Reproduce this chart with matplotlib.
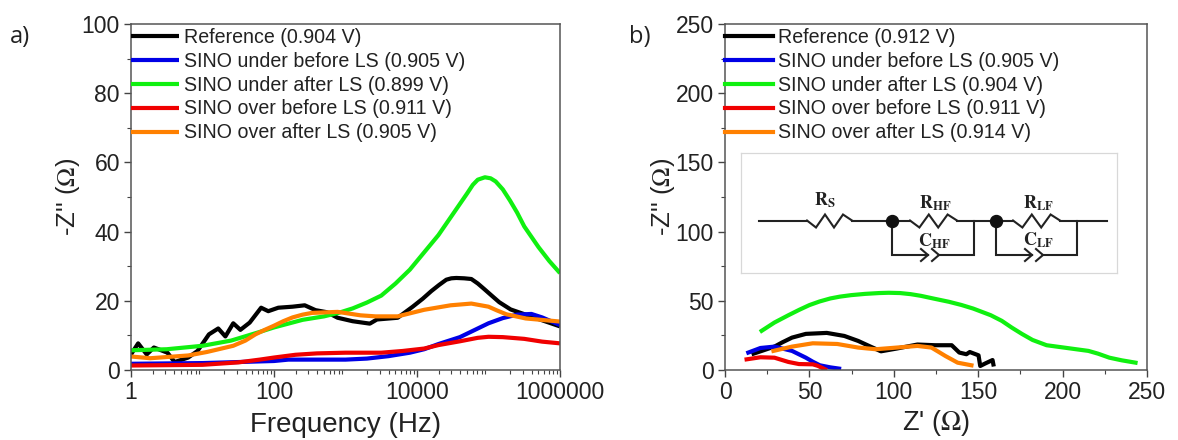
import numpy as np
import matplotlib
matplotlib.use("Agg")
import matplotlib.pyplot as plt
from matplotlib.ticker import FixedLocator, NullFormatter

plt.rcParams['font.family'] = ['Liberation Sans', 'DejaVu Sans']

W, H = 1178, 440
COL = dict(black='#000000', blue='#0000e6', green='#10f010', red='#f00000', orange='#ff8000')

# ---- panel a: log10(frequency), -Z''
a_black_f = [0,.10,.22,.32,.51,.61,.80,.93,1.09,1.22,1.32,1.43,1.53,1.66,1.82,1.92,2.06,2.26,2.43,2.58,2.74,2.89,3.10,3.34,3.44,3.73,3.94,4.08,4.20,4.31,4.41,4.48,4.55,4.66,4.76,4.85,4.94,5.05,5.15,5.31,5.52,5.76,6.0]
a_black_z = [4.5,7.7,4.5,6.5,5,2.3,3.6,5.5,10.3,12,9.7,13.5,11.6,13.7,18,17,18,18.3,18.7,17.3,16.7,15.1,14.1,13.4,14.6,15.1,18.3,20.6,22.8,24.6,26.1,26.5,26.6,26.5,26.3,25,23.4,21.4,19.6,17.5,16,14.3,12.6]
a_blue_f = [0,1,1.5,2,2.2,3,3.3,3.6,3.9,4.1,4.3,4.6,4.8,5.0,5.2,5.4,5.6,5.75,6]
a_blue_z = [1.8,2,2.3,2.6,3,3,3.3,4,5,6,7.5,9.5,11.5,13.5,15,16,16.2,15.2,13]
a_green_f = [0,.5,1,1.4,1.8,2,2.4,2.7,2.9,3.1,3.3,3.5,3.7,3.9,4.1,4.3,4.5,4.6,4.7,4.78,4.85,4.95,5.03,5.1,5.2,5.3,5.4,5.5,5.6,5.7,5.85,6]
a_green_z = [5.7,6,7,8.5,11,12.3,14.5,15.5,16.5,17.8,19.5,21.5,25,29,34,39,45,48,51,53.5,55,55.7,55.4,54.5,52.2,49,45.5,41.5,38.5,35.5,31.5,28]
a_red_f = [0,1,1.5,1.8,2,2.3,2.6,3,3.5,3.8,4.1,4.3,4.6,4.85,5.0,5.2,5.5,5.75,6]
a_red_z = [1.3,1.5,2.2,3,3.6,4.4,4.8,5,5,5.5,6.2,7.2,8.3,9.3,9.6,9.5,9,8.2,7.7]
a_orange_f = [0,.27,.80,1.06,1.43,1.6,1.74,1.87,2.0,2.13,2.26,2.4,2.53,2.89,3.21,3.42,3.73,4.1,4.47,4.76,5.0,5.12,5.25,5.52,6]
a_orange_z = [3.9,3.4,4.2,5.2,7,8.5,10.3,11.6,12.8,14.1,15.2,16,16.5,16.8,15.8,15.5,15.5,17.4,18.7,19.2,18.3,17.2,16.1,14.9,14]
a_labels = ['Reference (0.904 V)','SINO under before LS (0.905 V)','SINO under after LS (0.899 V)','SINO over before LS (0.911 V)','SINO over after LS (0.905 V)']
a_xticks = [1, 100, 10000, 1000000]
a_xticklabels = ['1', '100', '10000', '1000000']
a_yticks = [0, 20, 40, 60, 80, 100]

# ---- panel b: Z', -Z''
b_black_x = [16.9,29.3,34,39.7,47.9,60.3,70.7,78.9,86.2,92.4,101.7,114,124.4,134.3,138.8,143,145,150.2,151.2,154.3,158.5,159]
b_black_z = [11.8,16.9,20,23.4,26.1,26.8,24.6,21,16.9,13.5,15.5,18.4,17.9,17.9,12.6,11.4,13,10.6,2.9,4.8,7.2,4]
b_blue_x = [13.8,21,29.3,39.7,47.9,52,56.2,62.4,67.6]
b_blue_z = [12.6,15.9,16.9,13.8,8.9,6,3.4,1.9,1]
b_green_x = [21.7,29.3,37.6,44,50,56,62.4,68,74.8,83,91.3,97,103.7,110,116,124,132.6,140,147,157.4,164,169.8,176,182.2,190.5,200.8,208,215.3,221,227.7,235,243.2]
b_green_z = [28.3,34.3,39.6,43.5,46.9,49.5,51.7,53,54.1,55,55.6,55.8,55.6,54.8,53.6,51.5,49.3,47,44.4,39.6,35.5,30.7,26,21.7,17.9,16.2,15,13.8,11.8,8.9,7,5.3]
b_red_x = [12.8,21,29.3,37.6,43.8,52,55,59.3]
b_red_z = [7.7,9.2,8.9,5.8,4.3,4.1,3,0.5]
b_orange_x = [28.7,39.7,52,66.5,78.9,89.3,101.7,114,122.3,126,130.6,137.8,146]
b_orange_z = [13.8,16.9,19.3,18.8,16.2,15,16.2,17.4,16.2,13.5,10.1,5.3,3.4]
b_labels = ['Reference (0.912 V)','SINO under before LS (0.905 V)','SINO under after LS (0.904 V)','SINO over before LS (0.911 V)','SINO over after LS (0.914 V)']
b_xticks = [0, 50, 100, 150, 200, 250]
b_yticks = [0, 50, 100, 150, 200, 250]

fig = plt.figure(figsize=(W/100, H/100), dpi=100)

def make_ax(l, r, t, b):
    return fig.add_axes([l/W, 1-b/H, (r-l)/W, (b-t)/H])

ax1 = make_ax(131, 560, 24, 370)
ax2 = make_ax(725, 1147, 24, 370)

names = ['black', 'blue', 'green', 'red', 'orange']
a_data = [(a_black_f,a_black_z),(a_blue_f,a_blue_z),(a_green_f,a_green_z),(a_red_f,a_red_z),(a_orange_f,a_orange_z)]
b_data = [(b_black_x,b_black_z),(b_blue_x,b_blue_z),(b_green_x,b_green_z),(b_red_x,b_red_z),(b_orange_x,b_orange_z)]

for n, (f, z), lab in zip(names, a_data, a_labels):
    ax1.plot(10**np.array(f), z, color=COL[n], lw=3.0, label=lab, solid_capstyle='butt', solid_joinstyle='round')
for n, (x, z), lab in zip(names, b_data, b_labels):
    ax2.plot(x, z, color=COL[n], lw=3.0, label=lab, solid_joinstyle='round')

ax1.set_xscale('log')
ax1.set_xlim(1, 1e6); ax1.set_ylim(0, 100)
ax1.xaxis.set_major_locator(FixedLocator(a_xticks))
ax1.set_xticklabels(a_xticklabels)
ax1.xaxis.set_minor_locator(matplotlib.ticker.LogLocator(base=10, subs=np.arange(2, 10), numticks=20))
ax1.xaxis.set_minor_formatter(NullFormatter())
ax1.set_yticks(a_yticks)
ax1.set_yticks([10, 30, 50, 70, 90], minor=True)

ax2.set_xlim(0, 250); ax2.set_ylim(0, 250)
ax2.set_xticks(b_xticks); ax2.set_yticks(b_yticks)
ax2.set_xticks([25, 75, 125, 175, 225], minor=True)
ax2.set_yticks([25, 75, 125, 175, 225], minor=True)

for ax in (ax1, ax2):
    for s in ax.spines.values():
        s.set_color('#555555'); s.set_linewidth(1.1)
    ax.tick_params(which='major', length=5, width=1, color='#444444', labelsize=16.5, labelcolor='#222222', pad=3)
    ax.tick_params(which='minor', length=3, width=0.8, color='#444444')
    ax.legend(loc='upper left', bbox_to_anchor=(0, 0.989), frameon=False, fontsize=14.1, handlelength=2.45, handletextpad=0.25,
              borderpad=0, borderaxespad=0, labelspacing=0.25, labelcolor='#222222')

ax1.set_xlabel('Frequency (Hz)', fontsize=20, color='#222222', labelpad=6)
ax2.set_xlabel("Z' ($\\Omega$)", fontsize=19.5, color='#222222', labelpad=3, math_fontfamily='stix')
ax1.set_ylabel("-Z'' ($\\Omega$)", fontsize=18.5, color='#222222', labelpad=0, math_fontfamily='stix')
ax2.set_ylabel("-Z'' ($\\Omega$)", fontsize=18.5, color='#222222', labelpad=-1, math_fontfamily='stix')

fig.text(10/W, 1-37/H, 'a)', fontsize=17, family=['Open Sans', 'DejaVu Sans'], color='#222222', va='center')
fig.text(629/W, 1-37/H, 'b)', fontsize=17, family=['Open Sans', 'DejaVu Sans'], color='#222222', va='center')

# ---- equivalent circuit inset (drawn in reference pixel space)
ins = fig.add_axes([741/W, 1-273/H, 376/W, 120/H], zorder=5)
ins.set_xlim(741, 1117); ins.set_ylim(273, 153)
ins.set_xticks([]); ins.set_yticks([])
for s in ins.spines.values():
    s.set_color('#d8d8d8'); s.set_linewidth(0.9)

lw = 1.5
def seg(xs, ys):
    ins.plot(xs, ys, color='#222222', lw=lw, solid_joinstyle='miter')
def resistor(x0, x1, y=220.5):
    xs = np.linspace(x0, x1, 6)
    ys = [y, y+7, y-6, y+7, y-6, y]
    seg(xs, ys)
def cap(x, y=255):
    seg([x-7, x, x-7], [y-6, y, y+6])
    seg([x+4, x+11, x+4], [y-6, y, y+6])

seg([759, 807], [220.5, 220.5]); resistor(807, 852)
seg([852, 910], [220.5, 220.5]); resistor(910, 957)
seg([957, 1013], [220.5, 220.5]); resistor(1013, 1060)
seg([1060, 1107], [220.5, 220.5])
for xl, xr in [(892, 974), (996, 1077)]:
    seg([xl, xl, xl+36], [220.5, 255, 255])
    seg([xl+47, xr, xr], [255, 255, 220.5])
    cap(xl+36)
    ins.plot([xl], [220.5], 'o', color='#111111', ms=8.6)
for x, y, main, sub in [(825, 200, 'R', 'S'), (935, 203, 'R', 'HF'), (1038, 203, 'R', 'LF')]:
    ins.text(x, y, f'$\\mathbf{{{main}}}_{{\\mathbf{{{sub}}}}}$', ha='center', va='center', fontsize=13,
             math_fontfamily='stix', color='#222222')
for x, y, main, sub in [(934, 241, 'C', 'HF'), (1038, 240, 'C', 'LF')]:
    ins.text(x, y, f'$\\mathbf{{{main}}}_{{\\mathbf{{{sub}}}}}$', ha='center', va='center', fontsize=13,
             math_fontfamily='stix', color='#222222')

fig.savefig('out.png', dpi=100)
